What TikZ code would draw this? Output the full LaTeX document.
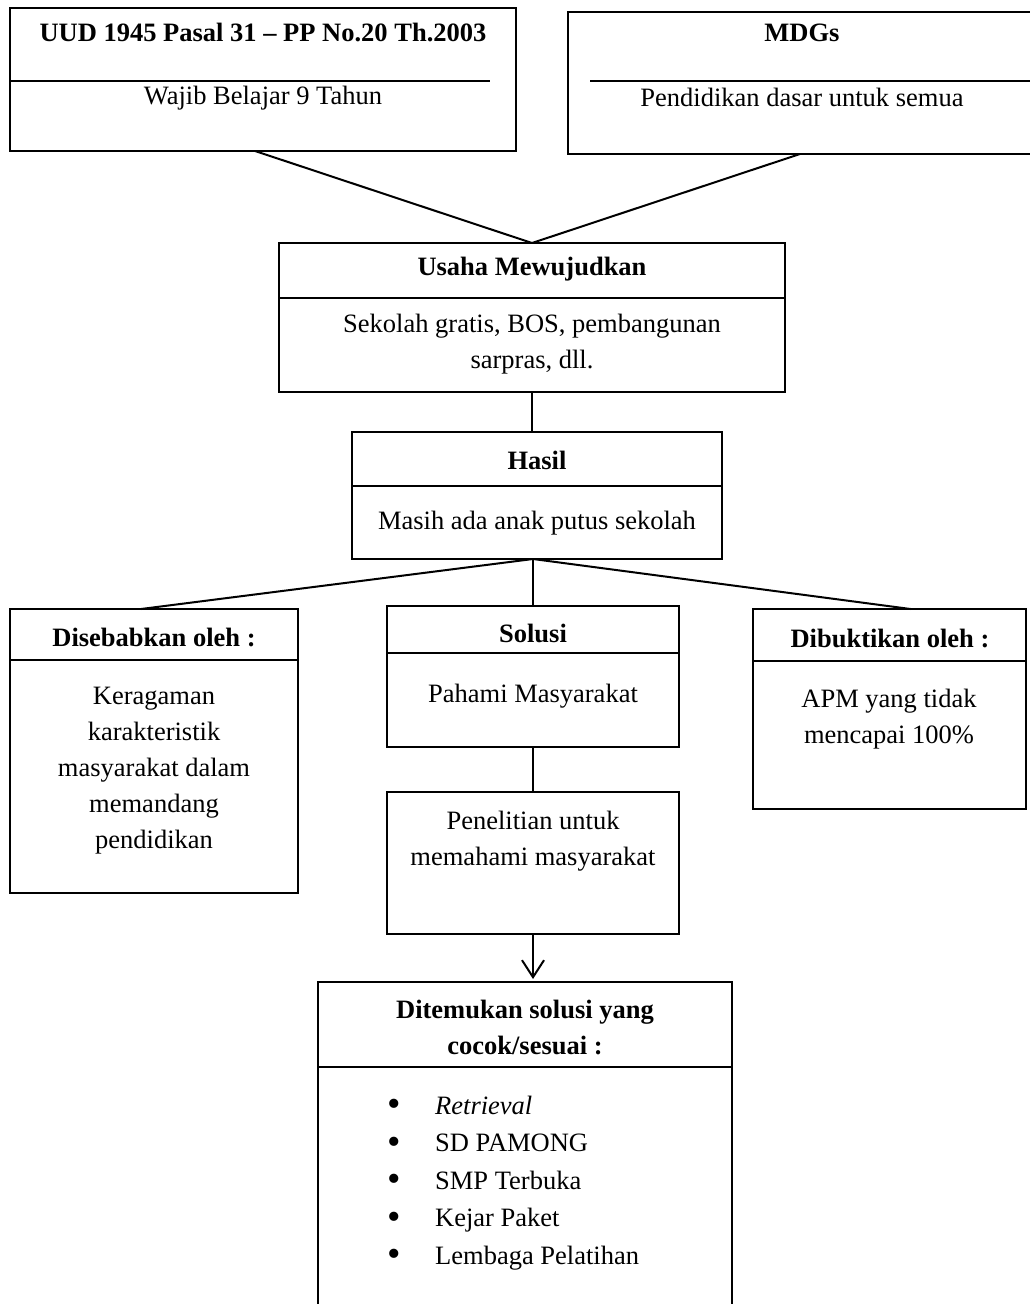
\documentclass[tikz,border=0pt]{standalone}
\usepackage{fontspec}
\setmainfont{Liberation Serif}
\usetikzlibrary{arrows.meta,calc}
\newcommand\dfont{\fontsize{26.5}{36}\selectfont}
\newcommand\lfont{\fontsize{26.5}{37.5}\selectfont}
\newcommand\bigbul{\makebox[47pt][l]{\hspace{-1pt}\raisebox{-2.5pt}{\scalebox{1.45}{\textbullet}}}}
\begin{document}
\begin{tikzpicture}[x=1pt,y=-1pt,
  box/.style={draw,line width=2.1pt,rectangle,inner sep=0pt,outer sep=0pt,anchor=north west},
  txt/.style={inner sep=0pt,align=center,font=\dfont},
  ttl/.style={inner sep=0pt,align=center,font=\dfont\bfseries},
  link/.style={line width=2pt},
]
\useasboundingbox (0,0) rectangle (1030,1304);
\clip (0,0) rectangle (1030,1304);
\fill[white] (0,0) rectangle (1030,1304);

% boxes
\node[box,minimum width=506pt,minimum height=143pt] (uud) at (10,8) {};
\node[box,minimum width=468pt,minimum height=142pt] (mdgs) at (568,12) {};
\node[box,minimum width=506pt,minimum height=149pt] (usaha) at (279,243) {};
\node[box,minimum width=370pt,minimum height=127pt] (hasil) at (352,432) {};
\node[box,minimum width=288pt,minimum height=284pt] (dis) at (10,609) {};
\node[box,minimum width=292pt,minimum height=141pt] (solusi) at (387,606) {};
\node[box,minimum width=273pt,minimum height=200pt] (dib) at (753,609) {};
\node[box,minimum width=292pt,minimum height=142pt] (pen) at (387,792) {};
\node[box,minimum width=414pt,minimum height=340pt] (dit) at (318,982) {};

% dividers
\draw[link] (10,81) -- (490,81);
\draw[link] (590,81) -- (1036,81);
\draw[link] (279,298) -- (785,298);
\draw[link] (352,486) -- (722,486);
\draw[link] (10,660) -- (298,660);
\draw[link] (387,653) -- (679,653);
\draw[link] (753,661) -- (1026,661);
\draw[link] (318,1067) -- (732,1067);

% texts
\node[ttl] (uudt) at (263,32) {UUD 1945 Pasal 31 – PP No.20 Th.2003};
\node[txt] (uudb) at (263,98) {Wajib Belajar 9 Tahun};
\node[ttl] (mdgst) at (802,33) {MDGs};
\node[txt] (mdgsb) at (802,97) {Pendidikan dasar untuk semua};
\node[ttl] (usahat) at (532,269) {Usaha Mewujudkan};
\node[txt] (usahab) at (532,344) {Sekolah gratis, BOS, pembangunan\\sarpras, dll.};
\node[ttl] (hasilt) at (537,460) {Hasil};
\node[txt] (hasilb) at (537,523) {Masih ada anak putus sekolah};
\node[ttl] (dist) at (154,637) {Disebabkan oleh :};
\node[txt] (disb) at (154,771) {Keragaman\\karakteristik\\masyarakat dalam\\memandang\\pendidikan};
\node[ttl] (solt) at (533,633) {Solusi};
\node[txt] (solb) at (533,696) {Pahami Masyarakat};
\node[ttl] (dibt) at (890,638) {Dibuktikan oleh :};
\node[txt] (dibb) at (889,719) {APM yang tidak\\mencapai 100\%};
\node[txt] (penb) at (533,841) {Penelitian untuk\\memahami masyarakat};
\node[ttl] (ditt) at (525,1027) {Ditemukan solusi yang\\cocok/sesuai :};
\node[inner sep=0pt,align=left,font=\lfont,anchor=west] (list) at (388,1183) {%
\bigbul\textit{Retrieval}\\
\bigbul SD PAMONG\\
\bigbul SMP Terbuka\\
\bigbul Kejar Paket\\
\bigbul Lembaga Pelatihan};

% connectors
\draw[link] ([xshift=-8pt]uud.south) -- (usaha.north);
\draw[link] ([xshift=-2pt]mdgs.south) -- (usaha.north);
\draw[link] (usaha.south) -- (usaha.south |- hasil.north);
\draw[link] ([xshift=-4pt]hasil.south) -- ([xshift=-13pt]dis.north);
\draw[link] ([xshift=-4pt]hasil.south) -- (solusi.north);
\draw[link] ([xshift=-4pt]hasil.south) -- ([xshift=21pt]dib.north);
\draw[link] (solusi.south) -- (pen.north);
\draw[link,-{Straight Barb[length=17pt,width=22pt]},shorten >=3pt] (pen.south) -- (pen.south |- dit.north);
\end{tikzpicture}
\end{document}
